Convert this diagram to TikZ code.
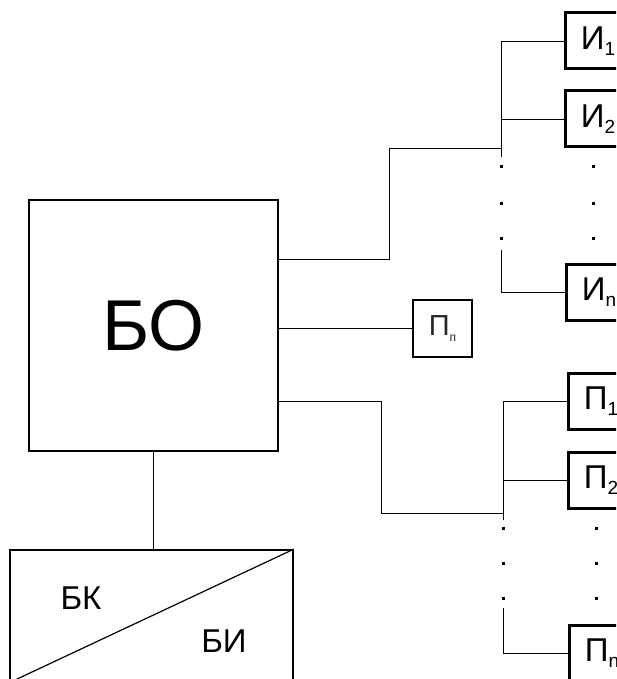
\documentclass[tikz,border=0pt]{standalone}
\usepackage{fontspec}
\setmainfont{Liberation Sans}
\newcommand\subtx[2]{\raisebox{-0.35ex}{\fontsize{#1}{#1}\selectfont #2}}
\begin{document}
\begin{tikzpicture}[x=1pt,y=-1pt,
  conn/.style={line width=0.9pt},
  bigbox/.style={draw, line width=1.8pt, inner sep=0},
  unitbox/.style={draw, line width=3pt, minimum width=66pt, minimum height=56pt, inner sep=0,
     font=\fontsize{33}{33}\selectfont},
  bdot/.style={fill, draw=none, rectangle, minimum size=3pt, inner sep=0}]
\useasboundingbox (0,0) rectangle (616,679);
\clip (0,0) rectangle (616,679);
% main block
\node[bigbox, minimum width=249pt, minimum height=251pt, font=\fontsize{72}{72}\selectfont] (BO) at (153.5,325.5) {БО};
% bottom block
\node[bigbox, minimum width=283pt, minimum height=150pt] (BKI) at (151.5,625) {};
\coordinate (diagend) at (15,680);
\draw[line width=1.2pt] (BKI.north east) -- (diagend);
\node[font=\fontsize{33}{33}\selectfont] (BK) at (81,598) {БК};
\node[font=\fontsize{33}{33}\selectfont] (BI) at (224,641) {БИ};
\draw[conn] (BO.south) -- (BO.south |- BKI.north);
% P_p
\node[draw, line width=2.6pt, minimum width=59pt, minimum height=57pt, inner sep=0,
  font=\fontsize{29}{29}\selectfont, text=black!85] (Pp) at (442.5,328.5) {П\subtx{12}{п}};
\draw[conn] (BO.east |- Pp.west) -- (Pp.west);
% I boxes
\node[unitbox] (I1) at (598,41) {И\subtx{19}{1}};
\node[unitbox] (I2) at (598,119) {И\subtx{19}{2}};
\node[unitbox] (In) at (599,292) {И\subtx{19}{n}};
\coordinate (ubj) at (501,148);
\coordinate (ubtop) at (501,41);
\coordinate (ubbot) at (501,157);
\coordinate (ubn) at (501,250);
\coordinate (bo1) at (278,259);
\draw[conn] (bo1) -| (389,148) -- (ubj);
\draw[conn] (ubtop) -- (ubbot);
\draw[conn] (ubtop) -- (I1.west);
\draw[conn] (ubtop |- I2.west) -- (I2.west);
\draw[conn] (ubn) -- (ubn |- In.west) -- (In.west);
\foreach \y/\k in {167/a,203/b,238/c}{
  \node[bdot] (ud\k) at (501,\y) {};
  \node[bdot] (udr\k) at (593,\y) {};
}
% P boxes
\node[unitbox] (P1) at (601,401) {П\subtx{19}{1}};
\node[unitbox] (P2) at (601,480) {П\subtx{19}{2}};
\node[unitbox] (Pn) at (602,653) {П\subtx{19}{n}};
\coordinate (lbj) at (503,513);
\coordinate (lbtop) at (503,401);
\coordinate (lbbot) at (503,520);
\coordinate (lbn) at (503,608);
\coordinate (bo2) at (278,401);
\draw[conn] (bo2) -| (381,513) -- (lbj);
\draw[conn] (lbtop) -- (lbbot);
\draw[conn] (lbtop) -- (P1.west);
\draw[conn] (lbtop |- P2.west) -- (P2.west);
\draw[conn] (lbn) -- (lbn |- Pn.west) -- (Pn.west);
\foreach \y/\k in {528/a,563/b,598/c}{
  \node[bdot] (ld\k) at (503,\y) {};
  \node[bdot] (ldr\k) at (596,\y) {};
}
\end{tikzpicture}
\end{document}
